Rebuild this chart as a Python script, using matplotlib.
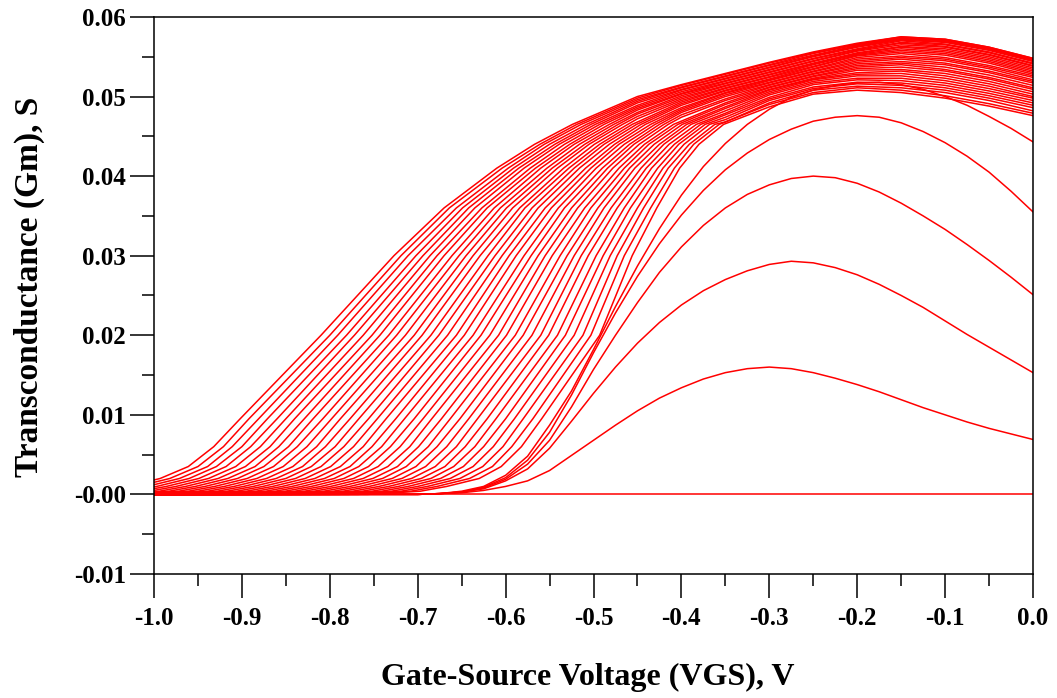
import matplotlib
matplotlib.use("Agg")
import matplotlib.pyplot as plt
from matplotlib.ticker import FixedLocator, MultipleLocator

plt.rcParams['font.family'] = ['Liberation Serif', 'DejaVu Serif']
plt.rcParams['font.weight'] = 'bold'

RED = '#ff0000'

# --- low-VDS curves (linear region), read on a 0.025 V grid ---
vgs_c = [-1.0, -0.7, -0.675, -0.65, -0.625, -0.6, -0.575, -0.55, -0.525, -0.5,
         -0.475, -0.45, -0.425, -0.4, -0.375, -0.35, -0.325, -0.3, -0.275, -0.25,
         -0.225, -0.2, -0.175, -0.15, -0.125, -0.1, -0.075, -0.05, -0.025, 0.0]
gm_c2 = [0, 0, 0.0001, 0.0002, 0.0005, 0.0010, 0.0017, 0.0030, 0.0049, 0.0068,
         0.0087, 0.0105, 0.0121, 0.0134, 0.0145, 0.0153, 0.0158, 0.0160, 0.0158, 0.0153,
         0.0146, 0.0138, 0.0129, 0.0119, 0.0109, 0.0100, 0.0091, 0.0083, 0.0076, 0.0069]
gm_c3 = [0, 0, 0.0001, 0.0003, 0.0007, 0.0017, 0.0032, 0.0058, 0.0092, 0.0127,
         0.0160, 0.0190, 0.0216, 0.0238, 0.0256, 0.0270, 0.0281, 0.0289, 0.0293, 0.0291,
         0.0285, 0.0276, 0.0264, 0.0250, 0.0235, 0.0218, 0.0201, 0.0185, 0.0169, 0.0153]
gm_c4 = [0, 0, 0.0001, 0.0003, 0.0008, 0.0019, 0.0038, 0.0068, 0.0110, 0.0157,
         0.0200, 0.0241, 0.0279, 0.0311, 0.0338, 0.0360, 0.0377, 0.0389, 0.0397, 0.0400,
         0.0398, 0.0391, 0.0380, 0.0366, 0.0350, 0.0333, 0.0314, 0.0294, 0.0273, 0.0251]
gm_c5 = [0, 0, 0.0001, 0.0003, 0.0009, 0.0021, 0.0043, 0.0078, 0.0125, 0.0178,
         0.0228, 0.0274, 0.0315, 0.0351, 0.0382, 0.0408, 0.0429, 0.0446, 0.0459, 0.0469,
         0.0474, 0.0476, 0.0474, 0.0467, 0.0456, 0.0442, 0.0425, 0.0405, 0.0381, 0.0355]
gm_c6 = [0, 0, 0.0001, 0.0004, 0.0010, 0.0024, 0.0048, 0.0087, 0.0130, 0.0182,
         0.0236, 0.0287, 0.0334, 0.0376, 0.0412, 0.0441, 0.0465, 0.0484, 0.0499, 0.0508,
         0.0514, 0.0517, 0.0518, 0.0515, 0.0509, 0.0500, 0.0489, 0.0475, 0.0460, 0.0443]

# VDS = 0 curve
vgs_zero = [-1.0, 0.0]
gm_zero = [0.0, 0.0]

# --- saturated curves: VGS where each curve crosses these Gm levels on the way up ---
rise_levels = [0.0, 0.0004, 0.001, 0.002, 0.0035, 0.006, 0.0095, 0.02, 0.03, 0.036,
               0.041, 0.044, 0.0465]
rise_vgs = [
    [-1.120, -1.060, -1.030, -0.993, -0.961, -0.932, -0.902, -0.810, -0.727, -0.670, -0.610, -0.567, -0.524],
    [-1.109, -1.049, -1.019, -0.982, -0.950, -0.921, -0.892, -0.800, -0.719, -0.664, -0.604, -0.561, -0.519],
    [-1.098, -1.038, -1.008, -0.971, -0.939, -0.911, -0.881, -0.791, -0.711, -0.656, -0.597, -0.556, -0.514],
    [-1.087, -1.027, -0.997, -0.960, -0.929, -0.900, -0.871, -0.781, -0.702, -0.649, -0.591, -0.550, -0.508],
    [-1.076, -1.016, -0.986, -0.949, -0.918, -0.890, -0.860, -0.772, -0.694, -0.642, -0.585, -0.544, -0.503],
    [-1.065, -1.005, -0.975, -0.938, -0.907, -0.879, -0.850, -0.762, -0.686, -0.635, -0.579, -0.539, -0.498],
    [-1.054, -0.994, -0.964, -0.927, -0.896, -0.868, -0.840, -0.752, -0.678, -0.627, -0.572, -0.533, -0.493],
    [-1.043, -0.983, -0.953, -0.916, -0.885, -0.858, -0.829, -0.743, -0.670, -0.621, -0.566, -0.527, -0.488],
    [-1.032, -0.972, -0.942, -0.905, -0.875, -0.847, -0.819, -0.733, -0.661, -0.613, -0.560, -0.522, -0.482],
    [-1.021, -0.961, -0.931, -0.894, -0.864, -0.837, -0.808, -0.724, -0.653, -0.606, -0.553, -0.516, -0.477],
    [-1.010, -0.950, -0.920, -0.883, -0.853, -0.826, -0.798, -0.714, -0.645, -0.599, -0.547, -0.510, -0.472],
    [-0.999, -0.939, -0.909, -0.872, -0.842, -0.815, -0.788, -0.704, -0.637, -0.592, -0.541, -0.505, -0.467],
    [-0.988, -0.928, -0.898, -0.861, -0.831, -0.805, -0.777, -0.695, -0.629, -0.584, -0.534, -0.499, -0.461],
    [-0.977, -0.917, -0.887, -0.850, -0.821, -0.794, -0.767, -0.685, -0.620, -0.578, -0.528, -0.493, -0.456],
    [-0.966, -0.906, -0.876, -0.839, -0.810, -0.784, -0.756, -0.676, -0.612, -0.570, -0.522, -0.488, -0.451],
    [-0.955, -0.895, -0.865, -0.828, -0.799, -0.773, -0.746, -0.666, -0.604, -0.563, -0.516, -0.482, -0.446],
    [-0.944, -0.884, -0.854, -0.817, -0.788, -0.762, -0.736, -0.656, -0.596, -0.555, -0.509, -0.476, -0.441],
    [-0.933, -0.873, -0.843, -0.806, -0.777, -0.752, -0.725, -0.647, -0.588, -0.548, -0.503, -0.471, -0.435],
    [-0.922, -0.862, -0.832, -0.795, -0.767, -0.741, -0.715, -0.637, -0.579, -0.540, -0.497, -0.465, -0.430],
    [-0.911, -0.851, -0.821, -0.784, -0.756, -0.731, -0.704, -0.628, -0.571, -0.533, -0.490, -0.459, -0.425],
    [-0.900, -0.840, -0.810, -0.773, -0.745, -0.720, -0.694, -0.618, -0.563, -0.525, -0.484, -0.454, -0.420],
    [-0.889, -0.829, -0.799, -0.762, -0.734, -0.709, -0.684, -0.608, -0.555, -0.518, -0.478, -0.448, -0.415],
    [-0.878, -0.818, -0.788, -0.751, -0.723, -0.699, -0.673, -0.599, -0.547, -0.510, -0.471, -0.442, -0.409],
    [-0.867, -0.807, -0.777, -0.740, -0.713, -0.688, -0.663, -0.589, -0.538, -0.503, -0.465, -0.437, -0.404],
    [-0.856, -0.796, -0.766, -0.729, -0.702, -0.678, -0.652, -0.580, -0.530, -0.495, -0.459, -0.431, -0.399],
    [-0.845, -0.785, -0.755, -0.718, -0.691, -0.667, -0.642, -0.570, -0.522, -0.488, -0.453, -0.425, -0.394],
    [-0.834, -0.774, -0.744, -0.707, -0.680, -0.656, -0.632, -0.560, -0.514, -0.480, -0.446, -0.420, -0.389],
    [-0.823, -0.763, -0.733, -0.696, -0.669, -0.646, -0.621, -0.551, -0.506, -0.473, -0.440, -0.414, -0.383],
    [-0.812, -0.752, -0.722, -0.685, -0.659, -0.635, -0.611, -0.541, -0.497, -0.465, -0.434, -0.408, -0.378],
    [-0.801, -0.741, -0.711, -0.674, -0.648, -0.625, -0.600, -0.532, -0.489, -0.458, -0.427, -0.403, -0.373],
    [-0.790, -0.730, -0.700, -0.663, -0.637, -0.614, -0.590, -0.522, -0.481, -0.450, -0.421, -0.397, -0.368],
    [-0.779, -0.719, -0.689, -0.652, -0.626, -0.603, -0.580, -0.512, -0.473, -0.443, -0.415, -0.391, -0.362],
    [-0.768, -0.708, -0.678, -0.641, -0.615, -0.593, -0.569, -0.503, -0.465, -0.435, -0.408, -0.386, -0.357],
    [-0.757, -0.697, -0.667, -0.630, -0.605, -0.582, -0.559, -0.493, -0.456, -0.428, -0.402, -0.380, -0.352],
]

# --- same curves across the top of the band, Gm at fixed VGS (None = still rising) ---
top_vgs = [-0.45, -0.4, -0.35, -0.3, -0.25, -0.2, -0.15, -0.1, -0.05, 0.0]
N = None
top_gm = [
    [0.0500, 0.0515, 0.0529, 0.0543, 0.0556, 0.0567, 0.0575, 0.0572, 0.0562, 0.0548],
    [0.0498, 0.0514, 0.0528, 0.0542, 0.0555, 0.0566, 0.0575, 0.0572, 0.0562, 0.0548],
    [0.0496, 0.0512, 0.0526, 0.0540, 0.0554, 0.0565, 0.0574, 0.0571, 0.0561, 0.0547],
    [0.0494, 0.0511, 0.0525, 0.0539, 0.0552, 0.0564, 0.0573, 0.0570, 0.0560, 0.0546],
    [0.0492, 0.0509, 0.0523, 0.0537, 0.0551, 0.0563, 0.0572, 0.0569, 0.0559, 0.0545],
    [0.0489, 0.0508, 0.0522, 0.0536, 0.0550, 0.0562, 0.0571, 0.0568, 0.0558, 0.0544],
    [0.0487, 0.0506, 0.0520, 0.0534, 0.0548, 0.0560, 0.0570, 0.0566, 0.0556, 0.0542],
    [0.0485, 0.0504, 0.0519, 0.0533, 0.0547, 0.0559, 0.0568, 0.0565, 0.0555, 0.0541],
    [0.0483, 0.0503, 0.0517, 0.0531, 0.0545, 0.0558, 0.0567, 0.0563, 0.0553, 0.0539],
    [0.0480, 0.0501, 0.0516, 0.0530, 0.0544, 0.0557, 0.0565, 0.0562, 0.0552, 0.0538],
    [0.0478, 0.0499, 0.0514, 0.0528, 0.0542, 0.0555, 0.0563, 0.0560, 0.0550, 0.0536],
    [0.0475, 0.0497, 0.0513, 0.0527, 0.0541, 0.0554, 0.0562, 0.0558, 0.0548, 0.0534],
    [0.0472, 0.0495, 0.0511, 0.0525, 0.0540, 0.0553, 0.0560, 0.0556, 0.0546, 0.0532],
    [N, 0.0493, 0.0510, 0.0524, 0.0538, 0.0552, 0.0558, 0.0554, 0.0544, 0.0530],
    [N, 0.0491, 0.0508, 0.0522, 0.0537, 0.0551, 0.0556, 0.0552, 0.0542, 0.0528],
    [N, 0.0489, 0.0507, 0.0521, 0.0535, 0.0549, 0.0554, 0.0549, 0.0539, 0.0526],
    [N, 0.0486, 0.0505, 0.0520, 0.0534, 0.0547, 0.0551, 0.0547, 0.0537, 0.0524],
    [N, 0.0484, 0.0504, 0.0518, 0.0532, 0.0545, 0.0549, 0.0545, 0.0535, 0.0521],
    [N, 0.0482, 0.0502, 0.0517, 0.0531, 0.0543, 0.0547, 0.0542, 0.0532, 0.0519],
    [N, 0.0480, 0.0500, 0.0515, 0.0529, 0.0541, 0.0544, 0.0540, 0.0530, 0.0517],
    [N, 0.0477, 0.0497, 0.0514, 0.0528, 0.0539, 0.0542, 0.0537, 0.0527, 0.0514],
    [N, 0.0474, 0.0495, 0.0512, 0.0526, 0.0537, 0.0540, 0.0534, 0.0524, 0.0511],
    [N, N, 0.0492, 0.0511, 0.0525, 0.0535, 0.0537, 0.0532, 0.0522, 0.0509],
    [N, N, 0.0490, 0.0509, 0.0523, 0.0533, 0.0534, 0.0529, 0.0519, 0.0506],
    [N, N, 0.0487, 0.0508, 0.0522, 0.0530, 0.0532, 0.0526, 0.0516, 0.0503],
    [N, N, 0.0485, 0.0506, 0.0521, 0.0528, 0.0529, 0.0523, 0.0513, 0.0500],
    [N, N, 0.0482, 0.0504, 0.0519, 0.0526, 0.0526, 0.0520, 0.0510, 0.0498],
    [N, N, 0.0479, 0.0502, 0.0517, 0.0523, 0.0523, 0.0517, 0.0507, 0.0495],
    [N, N, 0.0477, 0.0499, 0.0515, 0.0521, 0.0520, 0.0514, 0.0504, 0.0492],
    [N, N, 0.0474, 0.0497, 0.0512, 0.0518, 0.0517, 0.0511, 0.0501, 0.0489],
    [N, N, 0.0471, 0.0495, 0.0510, 0.0516, 0.0514, 0.0508, 0.0498, 0.0486],
    [N, N, 0.0468, 0.0492, 0.0508, 0.0513, 0.0511, 0.0505, 0.0495, 0.0482],
    [N, N, N, 0.0490, 0.0505, 0.0511, 0.0508, 0.0501, 0.0491, 0.0479],
    [N, N, N, 0.0487, 0.0503, 0.0508, 0.0505, 0.0498, 0.0488, 0.0476],
]

x_ticks = [-1.0, -0.9, -0.8, -0.7, -0.6, -0.5, -0.4, -0.3, -0.2, -0.1, 0.0]
x_tick_labels = ['-1.0', '-0.9', '-0.8', '-0.7', '-0.6', '-0.5', '-0.4', '-0.3', '-0.2', '-0.1', '0.0']
y_ticks = [-0.01, 0.0, 0.01, 0.02, 0.03, 0.04, 0.05, 0.06]
y_tick_labels = ['-0.01', '-0.00', '0.01', '0.02', '0.03', '0.04', '0.05', '0.06']

fig = plt.figure(figsize=(10.57, 6.98), dpi=100)
ax = fig.add_axes([0.1457, 0.1777, 0.8316, 0.7980])

ax.plot(vgs_zero, gm_zero, color=RED, lw=1.1)
for gm in (gm_c2, gm_c3, gm_c4, gm_c5, gm_c6):
    ax.plot(vgs_c, gm, color=RED, lw=1.1)

for xs, top in zip(rise_vgs, top_gm):
    x = list(xs)
    y = list(rise_levels)
    if x[0] > -1.0:
        x = [-1.0] + x
        y = [0.0] + y
    for v, g in zip(top_vgs, top):
        if g is not None:
            x.append(v)
            y.append(g)
    ax.plot(x, y, color=RED, lw=1.1)

ax.set_xlim(-1.0, 0.0)
ax.set_ylim(-0.01, 0.06)

ax.xaxis.set_major_locator(FixedLocator(x_ticks))
ax.set_xticklabels(x_tick_labels)
ax.yaxis.set_major_locator(FixedLocator(y_ticks))
ax.set_yticklabels(y_tick_labels)
ax.xaxis.set_minor_locator(MultipleLocator(0.05))
ax.yaxis.set_minor_locator(MultipleLocator(0.005))

ax.tick_params(which='major', direction='out', length=17, width=1.1, labelsize=18)
ax.tick_params(which='minor', direction='out', length=8.5, width=1.1)
ax.tick_params(axis='x', which='major', pad=7)
ax.tick_params(axis='y', which='major', pad=3)
for s in ax.spines.values():
    s.set_linewidth(1.1)

ax.set_xlabel('Gate-Source Voltage (VGS), V', fontsize=23, fontweight='bold')
ax.set_ylabel('Transconductance (Gm), S', fontsize=24, fontweight='bold')
ax.xaxis.set_label_coords(0.494, -0.16)
ax.yaxis.set_label_coords(-0.124, 0.515)

fig.savefig('out.png', dpi=100)
